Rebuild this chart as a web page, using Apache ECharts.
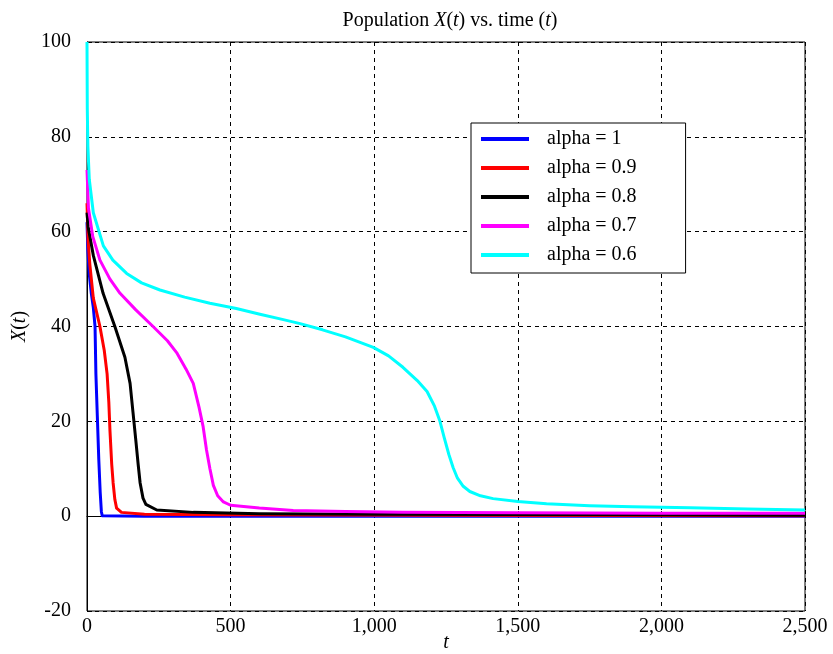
<!DOCTYPE html>
<html>
<head>
<meta charset="utf-8">
<script src="https://cdn.jsdelivr.net/npm/echarts@6/dist/echarts.min.js"></script>
<style>
  html, body { margin: 0; padding: 0; background: #fff; }
  #chart { width: 833px; height: 654px; }
</style>
</head>
<body>
<div id="chart"></div>
<script>
// series values, as [t, X(t)] pairs
const alpha1 = [[0, 62], [3, 56], [8, 51], [15, 47], [22, 44], [28, 40], [31, 30], [36, 21], [41, 12], [46, 5], [50, 1], [53, 0.1], [200, 0], [2500, 0]]
const alpha09 = [[0, 66], [4, 58], [10, 53], [22, 46], [45, 40], [60, 35], [70, 30], [76, 24], [80, 18], [86, 11], [91, 7], [97, 3.5], [103, 1.7], [120, 0.8], [200, 0.4], [500, 0.3], [1200, 0.2], [2500, 0.1]]
const alpha08 = [[0, 64], [4, 61], [10, 59], [22, 55], [56, 47], [97, 40], [132, 33.5], [150, 28], [160, 22], [170, 16], [178, 11], [185, 7], [195, 3.8], [205, 2.5], [243, 1.3], [370, 0.8], [600, 0.5], [1000, 0.4], [1900, 0.3], [2500, 0.2]]
const alpha07 = [[0, 73], [5, 65], [20, 59], [45, 54], [80, 50], [115, 47], [170, 43.5], [230, 40], [280, 37], [312, 34.5], [345, 31], [370, 28], [390, 23], [404, 19], [416, 14], [428, 10], [440, 6.5], [455, 4.3], [475, 3], [500, 2.3], [600, 1.7], [718, 1.2], [900, 1], [1100, 0.8], [1500, 0.7], [2000, 0.6], [2500, 0.6]]
const alpha06 = [[0, 100], [1, 86], [3, 78], [8, 71], [22, 64], [57, 57], [90, 54], [138, 51.2], [190, 49.2], [254, 47.7], [340, 46.2], [428, 44.9], [520, 43.8], [602, 42.6], [680, 41.5], [742, 40.6], [820, 39.3], [900, 37.8], [997, 35.6], [1050, 33.8], [1100, 31.4], [1150, 28.6], [1184, 26.3], [1210, 23.2], [1229, 20], [1244, 16.5], [1260, 13], [1275, 10.2], [1290, 8], [1310, 6.3], [1333, 5.2], [1370, 4.3], [1414, 3.7], [1500, 3.1], [1600, 2.6], [1750, 2.2], [1900, 2], [2100, 1.8], [2300, 1.5], [2500, 1.3]]

const seriesNames = ['alpha = 1', 'alpha = 0.9', 'alpha = 0.8', 'alpha = 0.7', 'alpha = 0.6']
const seriesColors = ['#0000ff', '#ff0000', '#000000', '#ff00ff', '#00ffff']
const seriesData = [alpha1, alpha09, alpha08, alpha07, alpha06]

const xTicks = { min: 0, max: 2500, interval: 500 }
const yTicks = { min: -20, max: 100, interval: 20 }

const serif = '"Liberation Serif", "DejaVu Serif", serif'

const chart = echarts.init(document.getElementById('chart'))

chart.setOption({
  animation: false,
  backgroundColor: '#fff',
  title: {
    text: '{n|Population }{i|X}{n|(}{i|t}{n|) vs. time (}{i|t}{n|)}',
    left: 445,
    textAlign: 'center',
    top: 6,
    textStyle: {
      fontWeight: 'normal',
      rich: {
        n: { fontFamily: serif, fontSize: 20, fontWeight: 'normal', color: '#000' },
        i: { fontFamily: serif, fontSize: 20, fontWeight: 'normal', fontStyle: 'italic', color: '#000' }
      }
    }
  },
  legend: {
    orient: 'vertical',
    left: 471,
    top: 123,
    backgroundColor: '#fff',
    borderColor: '#000',
    borderWidth: 1,
    padding: [6, 49, 8, 10],
    itemGap: 9,
    itemWidth: 48,
    itemHeight: 4,
    icon: 'rect',
    textStyle: {
      fontFamily: serif,
      fontSize: 20,
      lineHeight: 20,
      color: '#000',
      padding: [0, 0, 0, 13]
    },
    data: seriesNames
  },
  grid: {
    left: 87,
    right: 28,
    top: 42,
    bottom: 43,
    outerBoundsMode: 'none',
    containLabel: false,
    show: true,
    borderColor: '#000',
    borderWidth: 1
  },
  xAxis: {
    type: 'value',
    min: xTicks.min,
    max: xTicks.max,
    interval: xTicks.interval,
    name: '{i|t}',
    nameLocation: 'middle',
    nameGap: 22,
    nameMoveOverlap: false,
    nameTextStyle: {
      fontFamily: serif,
      fontSize: 20,
      color: '#000',
      rich: { i: { fontFamily: serif, fontSize: 20, fontStyle: 'italic', color: '#000' } }
    },
    axisLine: { lineStyle: { color: '#000', width: 1 } },
    axisTick: { inside: true, length: 5, lineStyle: { color: '#000' } },
    axisLabel: {
      fontFamily: serif,
      fontSize: 20,
      color: '#000',
      margin: 6,
      formatter: v => v.toLocaleString('en-US')
    },
    splitLine: { show: true, lineStyle: { color: '#000', width: 1, type: [4, 4] } }
  },
  yAxis: {
    type: 'value',
    min: yTicks.min,
    max: yTicks.max,
    interval: yTicks.interval,
    name: '{i|X}({i|t})',
    nameLocation: 'middle',
    nameGap: 36,
    nameTextStyle: {
      fontFamily: serif,
      fontSize: 20,
      color: '#000',
      rich: { i: { fontFamily: serif, fontSize: 20, fontStyle: 'italic', color: '#000' } }
    },
    axisLine: { show: true, lineStyle: { color: '#000', width: 1 } },
    axisTick: { show: true, inside: true, length: 5, lineStyle: { color: '#000' } },
    axisLabel: { fontFamily: serif, fontSize: 20, color: '#000', margin: 16 },
    splitLine: { show: true, lineStyle: { color: '#000', width: 1, type: [4, 4] } }
  },
  series: seriesData.map((d, i) => ({
    name: seriesNames[i],
    type: 'line',
    data: d,
    showSymbol: false,
    smooth: false,
    color: seriesColors[i],
    lineStyle: { width: 3, color: seriesColors[i], join: 'round' }
  }))
})
</script>
</body>
</html>
